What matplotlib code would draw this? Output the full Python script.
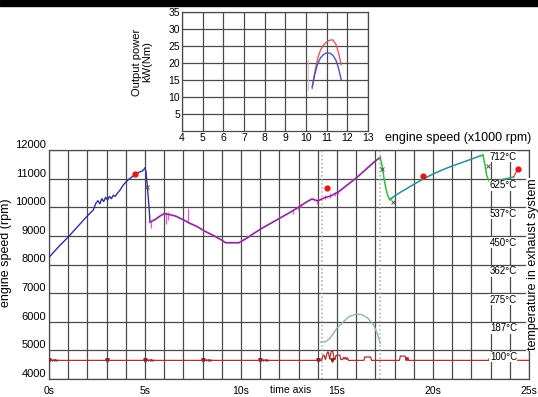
import matplotlib
matplotlib.use("Agg")
import matplotlib.pyplot as plt
from matplotlib.patches import Rectangle

plt.rcParams['font.family'] = ['Liberation Sans', 'DejaVu Sans']

# ---- inset: output power vs engine speed ----
pw_red_rpm = [10.3, 10.4, 10.55, 10.7, 10.85, 11.0, 11.15, 11.3, 11.45, 11.55, 11.65, 11.7]
pw_red = [12.5, 16.5, 21.0, 23.8, 25.3, 26.2, 26.7, 26.8, 25.5, 23.5, 21.0, 19.5]
pw_blue_rpm = [10.3, 10.4, 10.55, 10.7, 10.85, 11.0, 11.15, 11.3, 11.45, 11.55, 11.65, 11.7]
pw_blue = [13.0, 16.0, 19.5, 21.5, 22.5, 23.0, 22.9, 22.3, 20.8, 19.0, 16.5, 15.2]

# ---- main chart: engine speed over time ----
blue_t = [0, 0.5, 1.0, 1.5, 2.0, 2.3, 2.45, 2.55, 2.65, 2.75, 2.85, 2.95, 3.05, 3.15,
          3.25, 3.35, 3.45, 3.55, 3.7, 3.85, 4.0, 4.2, 4.45, 4.7, 4.85, 4.95, 5.0, 5.05,
          5.12, 5.2, 5.26]
blue_rpm = [8250, 8620, 8960, 9330, 9700, 9900, 10150, 10230, 10120, 10300, 10200, 10350,
            10250, 10380, 10300, 10420, 10380, 10480, 10600, 10760, 10880, 11000, 11120,
            11230, 11260, 11330, 11380, 11250, 10750, 10100, 9500]

purple_t = [5.25, 5.5, 5.8, 6.0, 6.3, 6.6, 7.0, 7.3, 7.7, 8.1, 8.6, 9.0, 9.2, 9.9, 10.3,
            10.7, 11.1, 11.5, 12.0, 12.5, 13.0, 13.4, 13.7, 14.0, 14.3, 14.7, 15.1, 15.5,
            16.0, 16.5, 17.0, 17.25]
purple_rpm = [9480, 9560, 9700, 9780, 9740, 9690, 9560, 9450, 9330, 9170, 9000, 8850, 8760,
              8760, 8920, 9100, 9270, 9420, 9610, 9800, 10000, 10180, 10290, 10220, 10320,
              10400, 10550, 10760, 11020, 11320, 11620, 11740]

# magenta noise spikes around the purple track
spike_t = [5.3, 6.08, 6.18, 7.22, 12.7, 12.95, 13.15, 13.95, 14.4, 14.65, 14.9, 15.05]
spike_lo = [9280, 9400, 9550, 9450, 9760, 9900, 10000, 10120, 10280, 10330, 10380, 10450]
spike_hi = [9520, 9850, 9850, 9990, 9900, 10050, 10150, 10300, 10430, 10500, 10520, 10580]

green_t = [17.25, 17.35, 17.45, 17.55, 17.65, 17.75, 17.85]
green_rpm = [11740, 11450, 11000, 10650, 10400, 10250, 10300]
green2_t = [22.6, 22.7, 22.8, 22.95]
green2_rpm = [11820, 11500, 11100, 10880]

teal_t = [17.8, 18.2, 18.6, 19.0, 19.5, 20.0, 20.5, 21.0, 21.5, 22.0, 22.4, 22.6]
teal_rpm = [10300, 10480, 10640, 10800, 10990, 11160, 11310, 11440, 11560, 11680, 11780, 11820]
teal2_t = [22.95, 23.3, 23.7, 24.0, 24.2]
teal2_rpm = [10880, 10920, 10980, 11030, 11060]
red_tail_t = [24.2, 24.42]
red_tail_rpm = [11060, 11350]

dot_t = [4.47, 14.5, 19.5, 24.42]
dot_rpm = [11160, 10660, 11090, 11350]

sym_t = [5.12, 17.35, 17.9, 22.85]
sym_rpm = [10700, 11350, 10200, 11450]

# exhaust temperature trace (light curve)
temp_t = [14.15, 14.4, 14.6, 14.8, 15.0, 15.3, 15.6, 16.0, 16.3, 16.6, 16.9, 17.1, 17.25]
temp_rpm = [5290, 5300, 5400, 5580, 5780, 5980, 6170, 6270, 6250, 6130, 5900, 5580, 5250]

# bottom "mv" signal
mv_t = [0, 14.2, 14.28, 14.33, 14.4, 14.5, 14.55, 14.62, 14.7, 14.78, 14.85, 14.9, 14.95,
        15.15, 15.2, 15.3, 15.35, 15.4, 15.45, 15.5, 15.55, 15.6, 16.4, 16.45, 16.75, 16.8,
        18.25, 18.3, 18.55, 18.6, 18.63, 18.66, 18.7, 18.73, 18.77, 22.9, 22.96, 23.05, 25]
mv_rpm = [4650, 4650, 4830, 4830, 4680, 4940, 4940, 4700, 4970, 4970, 4700, 4680, 4830,
          4830, 4680, 4680, 4760, 4700, 4760, 4680, 4740, 4650, 4650, 4770, 4770, 4650,
          4650, 4800, 4800, 4650, 4750, 4650, 4750, 4650, 4650, 4650, 4780, 4660, 4650]
mark_t = [0, 3, 5, 8, 11, 14, 14.75]
mv_text_t = [0, 5, 8, 11]

dotted_t = [14.2, 17.25]

temp_levels = [5000, 6000, 7000, 8000, 9000, 10000, 11000, 12000]
temp_labels = ['100°C', '187°C', '275°C', '362°C', '450°C', '537°C', '625°C', '712°C']

W, H = 538, 397
fig = plt.figure(figsize=(W / 100, H / 100), dpi=100)
fig.add_artist(Rectangle((0, 1 - 6 / H), 1, 6 / H, transform=fig.transFigure,
                         color='black', zorder=10))

grid_c = '#4a4a4a'

# ---------- main axes ----------
ax = fig.add_axes([49 / W, 1 - 379 / H, 480 / W, 229 / H])
ax.set_xlim(0, 25)
ax.set_ylim(4000, 12000)
ax.set_xticks(range(26))
ax.set_xticklabels([f'{i}s' if i % 5 == 0 else '' for i in range(26)], fontsize=7.5)
ax.set_yticks(range(4000, 12001, 1000))
ax.set_yticklabels([str(v) for v in range(4000, 12001, 1000)], fontsize=8)
for lbl in ax.get_yticklabels():
    lbl.set_verticalalignment('bottom')
ax.tick_params(length=0, pad=2)
ax.tick_params(axis='x', pad=5)
ax.grid(True, color=grid_c, lw=0.9)
for s in ax.spines.values():
    s.set_color(grid_c)
    s.set_linewidth(0.9)

for t in dotted_t:
    ax.axvline(t, color='#a8a8a8', ls=':', lw=1.1, zorder=3)

ax.plot(blue_t, blue_rpm, color='#3030a0', lw=1.0, zorder=4)
ax.vlines(spike_t, spike_lo, spike_hi, color='#ff40ff', lw=0.8, zorder=4)
ax.plot(purple_t, purple_rpm, color='#ff60ff', lw=1.8, alpha=0.45, zorder=4)
ax.plot(purple_t, purple_rpm, color='#7a2a86', lw=1.0, zorder=5)
ax.plot(teal_t, teal_rpm, color='#2a8c9c', lw=1.1, zorder=4)
ax.plot(teal2_t, teal2_rpm, color='#3aa070', lw=1.1, zorder=4)
ax.plot(green_t, green_rpm, color='#30c030', lw=1.1, zorder=5)
ax.plot(green2_t, green2_rpm, color='#30c030', lw=1.1, zorder=5)
ax.plot(red_tail_t, red_tail_rpm, color='#e04040', lw=0.9, zorder=5)
ax.plot(dot_t, dot_rpm, 'o', color='#e01818', ms=3.5, zorder=6)
ax.plot(sym_t, sym_rpm, 'x', color='#505050', ms=2.5, mew=0.7, zorder=6)

ax.plot(temp_t, temp_rpm, color='#8fb4b4', lw=1.0, zorder=4)
ax.plot(mv_t, mv_rpm, color='#b03030', lw=0.9, zorder=4)
ax.plot(mark_t, [4650] * len(mark_t), 'v', color='#902020', ms=2.5, zorder=5)
for t in mv_text_t:
    ax.text(t + 0.15, 4650, 'mv', fontsize=4, color='#902020', va='center', zorder=5)

ytr = ax.get_yaxis_transform()
for lev, lab in zip(temp_levels, temp_labels):
    ax.text(0.975, lev - 60, lab, transform=ytr, ha='right', va='top', fontsize=7,
            zorder=7, bbox=dict(facecolor='white', edgecolor='none', pad=0.3))

ax.set_ylabel('engine speed (rpm)', fontsize=9)
ax.yaxis.set_label_coords(-0.077, 0.55)
ax.text(1.008, 0.5, 'temperature in exhaust system', transform=ax.transAxes,
        rotation=90, ha='center', va='center', fontsize=9, zorder=8,
        bbox=dict(facecolor='white', edgecolor='none', pad=0.5))
ax.text(12.6, -0.025, 'time axis', transform=ax.get_xaxis_transform(),
        ha='center', va='top', fontsize=7.5)

# ---------- inset axes ----------
ax2 = fig.add_axes([182 / W, 1 - 131 / H, 186 / W, 119 / H])
ax2.set_xlim(4, 13)
ax2.set_ylim(0, 35)
ax2.set_xticks(range(4, 14))
ax2.set_xticklabels([str(i) for i in range(4, 14)], fontsize=7.5)
ax2.set_yticks(range(5, 36, 5))
ax2.set_yticklabels([str(v) for v in range(5, 36, 5)], fontsize=7.5)
ax2.tick_params(length=0, pad=1.5)
ax2.grid(True, color=grid_c, lw=0.9)
for s in ax2.spines.values():
    s.set_color(grid_c)
    s.set_linewidth(0.9)
ax2.plot([10.08, 10.08], [12, 21], color='#c8c8c8', lw=0.7)
ax2.plot(pw_red_rpm, pw_red, color='#e05858', lw=1.0)
ax2.plot(pw_blue_rpm, pw_blue, color='#5050c0', lw=1.0)
ax2.set_ylabel('Output power\nkW(Nm)', fontsize=8, linespacing=1.0)
ax2.yaxis.set_label_coords(-0.16, 0.58)

fig.text(385 / W, 1 - 138 / H, 'engine speed (x1000 rpm)', fontsize=9,
         ha='left', va='center')

fig.savefig('out.png', dpi=100)
